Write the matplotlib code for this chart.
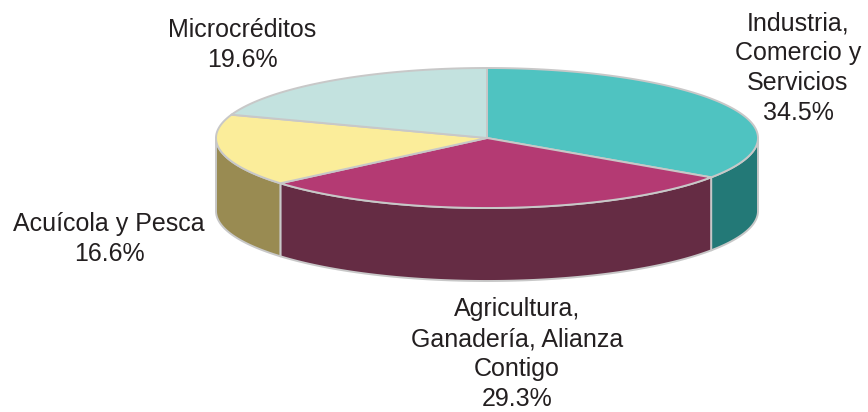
import numpy as np
import matplotlib.pyplot as plt
from matplotlib.patches import Polygon

# datos del grafico
sectores = ['Industria,\nComercio y\nServicios', 'Agricultura,\nGanadería, Alianza\nContigo',
            'Acuícola y Pesca', 'Microcréditos']
porcentajes = [34.5, 29.3, 16.6, 19.6]
colores_sup = ['#4fc3c1', '#b43a73', '#fbed9a', '#c3e2df']
colores_lado = ['#237977', '#652c44', '#998b52', '#8aa8a5']

# geometria del pastel (en pixeles)
cx, cy = 487, 138
a, b = 271, 70
prof = 73
borde = '#c8c8c8'

fig = plt.figure(figsize=(8.68, 4.12), dpi=100)
ax = fig.add_axes([0, 0, 1, 1])
ax.set_xlim(0, 868)
ax.set_ylim(412, 0)
ax.axis('off')


def punto(t, dy=0):
    return cx + a * np.cos(np.radians(t)), cy - b * np.sin(np.radians(t)) + dy


# angulos de cada sector (empieza arriba y va en sentido horario)
acum = np.concatenate([[0], np.cumsum(porcentajes)]) / 100.0
angulos = [(90 - 360 * acum[i + 1], 90 - 360 * acum[i]) for i in range(len(porcentajes))]

# paredes laterales (solo la mitad frontal)
for (t1, t2), col in zip(angulos, colores_lado):
    f1, f2 = max(t1, -180), min(t2, 0)
    if f2 <= f1:
        continue
    ts = np.linspace(f1, f2, 100)
    arriba = [punto(t) for t in ts]
    abajo = [punto(t, prof) for t in ts[::-1]]
    ax.add_patch(Polygon(arriba + abajo, closed=True, facecolor=col,
                         edgecolor=borde, linewidth=1.4, joinstyle='round'))

# caras superiores
for (t1, t2), col in zip(angulos, colores_sup):
    ts = np.linspace(t1, t2, 200)
    pts = [(cx, cy)] + [punto(t) for t in ts]
    ax.add_patch(Polygon(pts, closed=True, facecolor=col,
                         edgecolor=borde, linewidth=1.4, joinstyle='round'))

# etiquetas
etiquetas = {
    0: (798, 30),
    1: (517, 316),
    2: (109, 231),
    3: (242, 37),
}
for i, (x, y) in etiquetas.items():
    lineas = sectores[i].split('\n') + ['%.1f%%' % porcentajes[i]]
    for k, txt in enumerate(lineas):
        ax.text(x, y + 30 * k, txt, ha='center', va='baseline',
                fontsize=18, family='Liberation Sans', color='#231f20')

plt.savefig('out.png', dpi=100)
